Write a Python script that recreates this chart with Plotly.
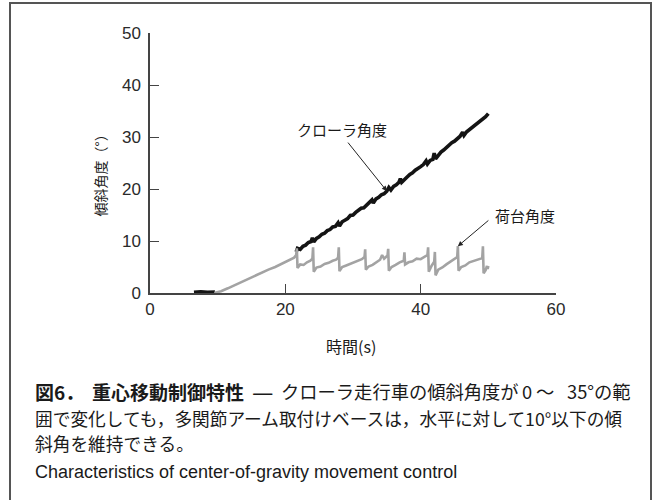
import plotly.graph_objects as go

# ---------------- data ----------------
crawler_t = [6.5, 7.5, 8.5, 9.6, None,
             21.6, 21.8, 22.2, 22.6, 23.0, 23.4, 23.8, 24.0, 24.2, 24.6, 25.0, 25.4, 25.8, 26.2, 26.6,
             27.0, 27.4, 27.8, 28.0, 28.4, 28.8, 29.2, 29.6, 30.0, 30.4, 30.8, 31.2, 31.6, 32.0, 32.4,
             32.8, 33.0, 33.4, 33.8, 34.2, 34.6, 35.0, 35.3, 35.6, 36.0, 36.4, 36.8, 37.0, 37.2, 37.6,
             38.0, 38.4, 38.8, 39.2, 39.6, 40.0, 40.4, 40.8, 41.0, 41.4, 41.8, 42.0, 42.2, 42.6, 43.0,
             43.4, 43.8, 44.2, 44.6, 45.0, 45.4, 45.8, 46.2, 46.4, 46.8, 47.2, 47.6, 48.0, 48.4, 48.8,
             49.2, 49.6, 50.0]
crawler_deg = [0.15, 0.25, 0.15, 0.2, None,
               7.9, 8.6, 8.4, 9.0, 9.2, 9.7, 9.9, 10.6, 9.8, 10.5, 10.8, 11.3, 11.5, 12.0, 12.2,
               12.7, 12.8, 13.5, 12.9, 13.7, 14.0, 14.3, 14.9, 15.0, 15.5, 15.8, 16.3, 16.4, 16.9, 17.2,
               17.9, 17.3, 18.1, 18.4, 18.9, 19.1, 19.6, 20.3, 19.8, 20.5, 20.8, 21.3, 22.0, 21.3, 21.9,
               22.3, 22.8, 23.1, 23.6, 23.9, 24.3, 24.7, 25.4, 24.8, 25.5, 25.7, 26.9, 25.8, 26.6, 27.1,
               27.5, 28.0, 28.3, 28.9, 29.2, 29.6, 30.1, 30.9, 30.3, 31.0, 31.4, 31.9, 32.2, 32.8, 33.0,
               33.6, 33.9, 34.5]

platform_t = [9.5, 10.5, 11.5, 12.5, 13.5, 14.5, 15.5, 16.5, 17.5, 18.5, 19.5, 20.5, 21.3, 21.6,
              21.7, 21.8, 22.2, 22.7, 23.2, 23.7, 24.0,
              24.1, 24.2, 24.6, 25.2, 25.8, 26.4, 27.0, 27.5, 27.8,
              27.9, 28.0, 28.4, 29.0, 29.6, 30.2, 30.8, 31.3, 31.7,
              31.8, 31.9, 32.3, 32.9, 33.5, 34.0, 34.3, 34.6, 35.1,
              35.2, 35.3, 35.7, 36.3, 36.9, 37.5,
              37.6, 37.7, 38.2, 38.8, 39.4, 40.0, 40.6, 41.0,
              41.1, 41.2, 41.6, 42.0,
              42.1, 42.2, 42.6, 43.2, 43.8, 44.4, 45.0, 45.4,
              45.5, 45.6, 46.0, 46.6, 47.2, 47.8, 48.4, 49.1,
              49.2, 49.3, 49.6, 49.8, 49.9, 50.0]
platform_deg = [0.0, 0.35, 0.9, 1.5, 2.2, 2.8, 3.3, 3.9, 4.5, 5.0, 5.6, 6.2, 6.8, 7.3,
                8.6, 4.8, 5.5, 5.4, 5.9, 6.2, 6.6,
                8.8, 4.1, 4.9, 5.1, 5.6, 5.8, 6.2, 6.4, 6.8,
                8.8, 4.2, 5.0, 5.3, 5.6, 5.9, 6.3, 6.5, 6.9,
                8.4, 4.5, 5.1, 5.4, 5.9, 6.4, 7.3, 6.6, 7.2,
                8.5, 4.3, 5.0, 5.4, 5.9, 6.2,
                7.8, 5.5, 5.9, 6.1, 6.6, 6.5, 7.0, 7.3,
                8.8, 4.1, 5.2, 6.0,
                7.9, 3.4, 4.5, 4.9, 5.5, 6.0, 6.4, 6.9,
                9.0, 4.3, 5.0, 5.3, 5.9, 6.2, 6.4, 6.7,
                9.0, 3.8, 4.4, 5.2, 4.6, 5.2]

x_ticks = [0, 20, 40, 60]
y_ticks = [0, 10, 20, 30, 40, 50]

crawler_label = "クローラ角度"
platform_label = "荷台角度"
x_title = "時間(s)"
y_title = "傾斜角度（°）"
cap_fig_no = "図6．"
cap_title = "重心移動制御特性"
cap_dash = "—"
cap_l1_body = "クローラ走行車の傾斜角度が"
cap_l1_a = "0"
cap_l1_b = "～"
cap_l1_c = "35°の範"
cap_l2 = "囲で変化しても，多関節アーム取付けベースは，水平に対して10°以下の傾"
cap_l3 = "斜角を維持できる。"
caption_en = "Characteristics of center-of-gravity movement control"

# ---------------- layout geometry ----------------
W, H = 653, 500
L, R, T, B = 150, 97, 33, 207
PW, PH = W - L - R, H - T - B


def px(x):
    return (x - L) / PW


def py(y):
    return (H - B - y) / PH


AX = "#444444"
JP = "Noto Sans CJK JP"
SANS = "Liberation Sans, Arial, sans-serif"
TXT = "#1a1a1a"

fig = go.Figure()
fig.add_trace(go.Scatter(x=crawler_t, y=crawler_deg, mode="lines", connectgaps=False,
                         line=dict(color="#141414", width=3.6), hoverinfo="skip"))
fig.add_trace(go.Scatter(x=platform_t, y=platform_deg, mode="lines",
                         line=dict(color="#a3a3a3", width=2.6), hoverinfo="skip"))

axis_common = dict(showgrid=False, zeroline=False, showline=True, linecolor=AX, linewidth=1.5,
                   ticks="inside", ticklen=9, tickwidth=1.2, tickcolor=AX,
                   tickfont=dict(family=SANS, size=17, color="#2a2a2a"), fixedrange=True)

fig.update_layout(
    width=W, height=H,
    margin=dict(l=L, r=R, t=T, b=B),
    paper_bgcolor="white", plot_bgcolor="white",
    showlegend=False,
    xaxis=dict(range=[0, 60], tickvals=x_ticks, **axis_common),
    yaxis=dict(range=[0, 50], tickvals=y_ticks, ticklabelstandoff=4, **axis_common),
)

k_c = crawler_t.index(35.0)
k_p = platform_t.index(45.5)


def label(xp, yp, text, size=15, family=JP, xanchor="center", angle=0):
    return dict(x=px(xp), y=py(yp), xref="paper", yref="paper", text=text, showarrow=False,
                xanchor=xanchor, yanchor="middle", textangle=angle,
                font=dict(family=family, size=size, color=TXT))


L1, L2, L3, L4 = 391, 418, 443, 472
ann = [
    # arrows (pure arrows, labels placed separately)
    dict(x=crawler_t[k_c], y=crawler_deg[k_c], xref="x", yref="y", text="",
         showarrow=True, ax=-40, ay=-50, arrowhead=2, arrowsize=1, arrowwidth=1,
         arrowcolor="#222"),
    dict(x=platform_t[k_p], y=platform_deg[k_p], xref="x", yref="y", text="",
         showarrow=True, ax=32, ay=-27, arrowhead=2, arrowsize=1, arrowwidth=1,
         arrowcolor="#222"),
    label(342, 129, crawler_label, 15),
    label(525, 216, platform_label, 15),
    label(351, 346, x_title, 16),
    label(99.5, 172, y_title, 14, angle=-90),
    # caption line 1 (justified in the original -> pieces placed individually)
    label(33, L1, "<b>" + cap_fig_no + "</b>", 19, xanchor="left"),
    label(90, L1, "<b>" + cap_title + "</b>", 19, xanchor="left"),
    label(262, L1 - 1, cap_dash, 24),
    label(279, L1, cap_l1_body, 18.3, xanchor="left"),
    label(527, L1, cap_l1_a, 18.3),
    label(545, L1, cap_l1_b, 18.3),
    dict(x=px(633), y=py(L1), xref="paper", yref="paper", text=cap_l1_c, showarrow=False,
         xanchor="right", yanchor="middle", font=dict(family=JP, size=18.3, color=TXT)),
    label(33, L2, cap_l2, 17.7, xanchor="left"),
    label(33, L3, cap_l3, 17.7, xanchor="left"),
    label(33, L4, caption_en, 18, family=SANS, xanchor="left"),
]
fig.update_layout(annotations=ann)

fig.add_shape(type="rect", xref="paper", yref="paper", x0=px(10), x1=px(651), y0=py(506), y1=py(3),
              line=dict(color="#555555", width=2), layer="above")

fig.write_html("out.html", config={"displayModeBar": False},
               post_script="document.body.style.margin='0';document.body.style.overflow='hidden';")
